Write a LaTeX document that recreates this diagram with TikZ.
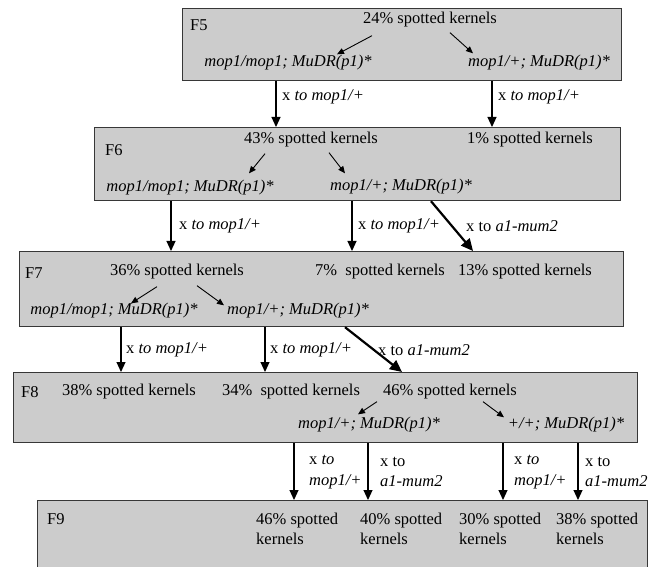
\documentclass[tikz,border=0pt]{standalone}
\usepackage{fontspec}
\setmainfont{Liberation Serif}
\usetikzlibrary{arrows.meta}
\definecolor{boxgray}{RGB}{204,204,204}
\definecolor{edgegray}{RGB}{55,55,55}

\begin{document}
\begin{tikzpicture}[x=1pt, y=-1pt, >={Triangle[length=10pt,width=9pt]}]
		%define block styles
		\tikzset{
			genbox/.style={rectangle, anchor=north west, draw=edgegray, line width=1.2pt, fill=boxgray, inner sep=0pt},
			pct/.style={inner sep=0pt, font=\fontsize{16.5}{20.5}\selectfont},
			geno/.style={pct, font=\fontsize{16.5}{20.5}\selectfont\itshape},
			cross/.style={pct, anchor=west, align=left},
			arrow/.style={line width=1.1pt, ->},
			thickarrow/.style={line width=2.2pt, -{Triangle[length=12pt,width=11pt]}},
			pointer/.style={line width=0.9pt, -{Triangle[length=7pt,width=6pt]}},}
		\useasboundingbox (0,0) rectangle (662,567);
		\clip (0,0) rectangle (662,567);
		%define boxes
		\node[genbox, minimum width=439pt, minimum height=72pt](F5) at (182,8){};
		\node[genbox, minimum width=526pt, minimum height=73pt](F6) at (94,127){};
		\node[genbox, minimum width=604pt, minimum height=75pt](F7) at (19,251){};
		\node[genbox, minimum width=624pt, minimum height=70pt](F8) at (13,372){};
		\node[genbox, minimum width=610pt, minimum height=90pt](F9) at (37,500){};
		%F5
		\node[pct, anchor=west](n5) at (190,25){F5};
		\node[pct](p5) at (430,20){24\% spotted kernels};
		\node[geno](g5a) at (288,63){mop1/mop1; MuDR(p1)*};
		\node[geno](g5b) at (539,63){mop1/+; MuDR(p1)*};
		\draw[pointer] ([shift={(-58,8)}]p5.south) -- ([shift={(49,-1)}]g5a.north);
		\draw[pointer] ([shift={(20,5)}]p5.south) -- ([shift={(-66,-2)}]g5b.north);
		%F6
		\node[pct, anchor=west](n6) at (105,150){F6};
		\node[pct](p6a) at (311,140){43\% spotted kernels};
		\node[pct](p6b) at (530,140){1\% spotted kernels};
		\node[geno](g6a) at (190,188){mop1/mop1; MuDR(p1)*};
		\node[geno](g6b) at (401,187){mop1/+; MuDR(p1)*};
		\draw[pointer] ([shift={(-46,6)}]p6a.south) -- ([shift={(59,-7)}]g6a.north);
		\draw[pointer] ([shift={(18,5)}]p6a.south) -- ([shift={(-56,-6)}]g6b.north);
		%F7
		\node[pct, anchor=west](n7) at (25,273){F7};
		\node[pct](p7a) at (177,272){36\% spotted kernels};
		\node[pct](p7b) at (380,272){7\%\ \ spotted kernels};
		\node[pct](p7c) at (525,272){13\% spotted kernels};
		\node[geno](g7a) at (114,311){mop1/mop1; MuDR(p1)*};
		\node[geno](g7b) at (298,311){mop1/+; MuDR(p1)*};
		\draw[pointer] ([shift={(-20,7)}]p7a.south) -- ([shift={(17,0)}]g7a.north);
		\draw[pointer] ([shift={(20,6)}]p7a.south) -- ([shift={(-74,2)}]g7b.north);
		%F8
		\node[pct, anchor=west](n8) at (21,392){F8};
		\node[pct](p8a) at (129,392){38\% spotted kernels};
		\node[pct](p8b) at (291,392){34\%\ \ spotted kernels};
		\node[pct](p8c) at (450,392){46\% spotted kernels};
		\node[geno](g8a) at (369,425){mop1/+; MuDR(p1)*};
		\node[geno](g8b) at (566,425){+/+; MuDR(p1)*};
		\draw[pointer] ([shift={(-73,2)}]p8c.south) -- ([shift={(-11,-3)}]g8a.north);
		\draw[pointer] ([shift={(33,2)}]p8c.south) -- ([shift={(-62,0)}]g8b.north);
		%F9
		\node[pct, anchor=west](n9) at (47,519){F9};
		\node[cross](k9a) at (256,529){46\% spotted\\kernels};
		\node[cross](k9b) at (360,529){40\% spotted\\kernels};
		\node[cross](k9c) at (459,529){30\% spotted\\kernels};
		\node[cross](k9d) at (556,529){38\% spotted\\kernels};
		%crosses
		\node[cross](x5a) at (282,97){x \textit{to mop1/+}};
		\node[cross](x5b) at (498,97){x \textit{to mop1/+}};
		\node[cross](x6a) at (179,226){x \textit{to mop1/+}};
		\node[cross](x6b) at (358,226){x \textit{to mop1/+}};
		\node[cross](x6c) at (466,226){x to \textit{a1-mum2}};
		\node[cross](x7a) at (126,350){x \textit{to mop1/+}};
		\node[cross](x7b) at (270,350){x \textit{to mop1/+}};
		\node[cross](x7c) at (378,350){x to \textit{a1-mum2}};
		\node[cross](x8a) at (309,472){x \textit{to}\\\textit{mop1/+}};
		\node[cross](x8b) at (380,472){x to\\\textit{a1-mum2}};
		\node[cross](x8c) at (514,472){x \textit{to}\\\textit{mop1/+}};
		\node[cross](x8d) at (585,472){x to\\\textit{a1-mum2}};
		%arrow positions
		\coordinate (a5a) at (276,0);
		\coordinate (a5b) at (492,0);
		\coordinate (a6a) at (171,0);
		\coordinate (a6b) at (352,0);
		\coordinate (d6s) at (431,0);
		\coordinate (d6e) at (473,0);
		\coordinate (a7a) at (121,0);
		\coordinate (a7b) at (265,0);
		\coordinate (d7s) at (345,0);
		\coordinate (d7e) at (402,0);
		\coordinate (a8a) at (294,0);
		\coordinate (a8b) at (368,0);
		\coordinate (a8c) at (503,0);
		\coordinate (a8d) at (578,0);
		%define arrows
		\draw[arrow] (F5.south -| a5a) -- (F6.north -| a5a);
		\draw[arrow] (F5.south -| a5b) -- (F6.north -| a5b);
		\draw[arrow] (F6.south -| a6a) -- (F7.north -| a6a);
		\draw[arrow] (F6.south -| a6b) -- (F7.north -| a6b);
		\draw[thickarrow] (F6.south -| d6s) -- (F7.north -| d6e);
		\draw[arrow] (F7.south -| a7a) -- (F8.north -| a7a);
		\draw[arrow] (F7.south -| a7b) -- (F8.north -| a7b);
		\draw[thickarrow] (F7.south -| d7s) -- (F8.north -| d7e);
		\draw[arrow] (F8.south -| a8a) -- (F9.north -| a8a);
		\draw[arrow] (F8.south -| a8b) -- (F9.north -| a8b);
		\draw[arrow] (F8.south -| a8c) -- (F9.north -| a8c);
		\draw[arrow] (F8.south -| a8d) -- (F9.north -| a8d);
	\end{tikzpicture}
\end{document}
